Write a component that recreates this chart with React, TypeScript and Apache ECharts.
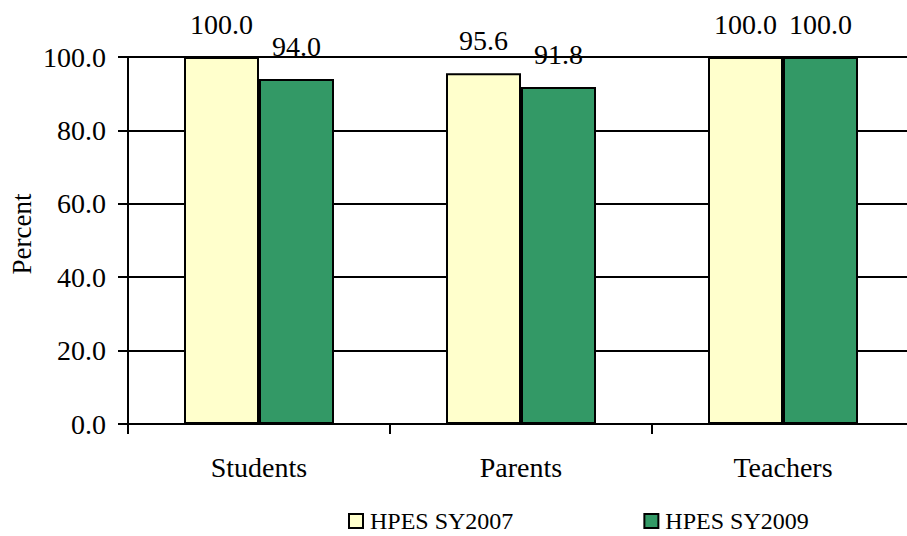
import React, { useEffect, useRef } from "react";
import * as echarts from "echarts";

const categories = ["Students", "Parents", "Teachers"];
const seriesNames = ["HPES SY2007", "HPES SY2009"];
const sy2007 = [100.0, 95.6, 100.0];
const sy2009 = [94.0, 91.8, 100.0];
const yTicks = { min: 0, max: 100, interval: 20 };
const yAxisTitle = "Percent";

const FONT = "Liberation Serif";

export default function App() {
  const ref = useRef<HTMLDivElement>(null);
  useEffect(() => {
    if (!ref.current) return;
    const chart = echarts.init(ref.current, undefined, { renderer: "svg" });
    const labelCfg = {
      show: true,
      position: "top",
      distance: 19,
      color: "#000",
      fontFamily: FONT,
      fontSize: 28,
      formatter: (p: any) => Number(p.value).toFixed(1),
    };
    chart.setOption({
      animation: false,
      backgroundColor: "#fff",
      textStyle: { fontFamily: FONT, color: "#000" },
      grid: { left: 128, right: 0, top: 57, bottom: 112, containLabel: false },
      graphic: [
        {
          type: "text",
          x: 22,
          y: 234,
          rotation: Math.PI / 2,
          style: {
            text: yAxisTitle,
            fontFamily: FONT,
            fontSize: 27,
            fill: "#000",
            align: "center",
            verticalAlign: "middle",
          },
        },
      ],
      legend: {
        data: seriesNames,
        icon: "rect",
        bottom: -2,
        left: 343,
        itemGap: 130,
        itemWidth: 14,
        itemHeight: 14,
        textStyle: { fontFamily: FONT, fontSize: 24, color: "#000", padding: [0, 0, 0, 2] },
      },
      xAxis: {
        type: "category",
        data: categories,
        axisLine: { show: true, lineStyle: { color: "#000", width: 2 } },
        axisTick: { show: true, length: 10, lineStyle: { color: "#000", width: 2 } },
        axisLabel: { color: "#000", fontFamily: FONT, fontSize: 28, margin: 29 },
        splitLine: { show: false },
      },
      yAxis: {
        type: "value",
        min: yTicks.min,
        max: yTicks.max,
        interval: yTicks.interval,
        axisLine: { show: true, lineStyle: { color: "#000", width: 2 } },
        axisTick: { show: true, length: 10, lineStyle: { color: "#000", width: 2 } },
        axisLabel: {
          color: "#000",
          fontFamily: FONT,
          fontSize: 28,
          margin: 22,
          formatter: (v: number) => v.toFixed(1),
        },
        splitLine: { show: true, lineStyle: { color: "#000", width: 2 } },
      },
      series: [
        {
          name: seriesNames[0],
          type: "bar",
          data: sy2007,
          barWidth: 75,
          barGap: "0%",
          itemStyle: { color: "#FFFFCC", borderColor: "#000", borderWidth: 2 },
          label: labelCfg,
        },
        {
          name: seriesNames[1],
          type: "bar",
          data: sy2009,
          barWidth: 75,
          barGap: "0%",
          itemStyle: { color: "#339966", borderColor: "#000", borderWidth: 2 },
          label: labelCfg,
        },
      ],
    });
    return () => chart.dispose();
  }, []);
  return (
    <div
      ref={ref}
      style={{ position: "fixed", left: 0, top: 0, width: 914, height: 536, background: "#fff" }}
    />
  );
}
